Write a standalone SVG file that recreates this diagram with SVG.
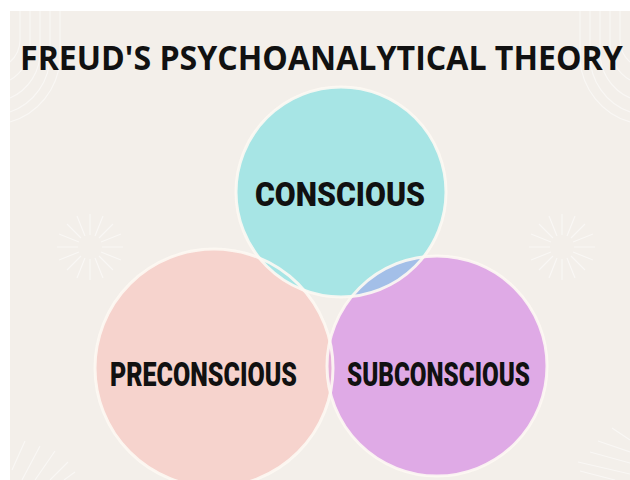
<svg xmlns="http://www.w3.org/2000/svg" width="630" height="480" viewBox="0 0 630 480">
  <style>
    .deco { fill: none; stroke: #ffffff; stroke-opacity: 0.5; stroke-width: 1.2; }
    .ring { fill: none; stroke: #fdf8f3; stroke-width: 3; stroke-opacity: 0.9; }
    .label { font-family: Roboto, "Liberation Sans", sans-serif; font-weight: 900; font-size: 33px; fill: #111111; }
    .title { font-family: "Open Sans", "Noto Sans", sans-serif; font-weight: 700; font-size: 34px; fill: #111111; }
  </style>
  <defs>
    <clipPath id="clipPink"><circle cx="214" cy="368" r="119"/></clipPath>
    <clipPath id="clipPurple"><circle cx="437" cy="366" r="110"/></clipPath>
  </defs>
  <rect x="0" y="0" width="630" height="480" fill="#ffffff"/>
  <rect x="10" y="11" width="620" height="469" fill="#f3efea"/>

  <g id="decorations">
    <path class="deco" d="M20,11 V40 A30,30 0 0 1 10,62 M30,11 V45 A40,40 0 0 1 10,80 M40,11 V50 A50,50 0 0 1 10,98 M50,11 V55 A60,60 0 0 1 10,112 M60,11 V60 A70,70 0 0 1 10,122"/>
    <path class="deco" d="M620,11 V40 A30,30 0 0 0 630,62 M610,11 V45 A40,40 0 0 0 630,80 M600,11 V50 A50,50 0 0 0 630,98 M590,11 V55 A60,60 0 0 0 630,112 M580,11 V60 A70,70 0 0 0 630,122"/>
    <g transform="translate(90,247)" class="deco" stroke-opacity="0.4">
      <path d="M0,-33 V-12 M0,33 V12 M-33,0 H-12 M33,0 H12 M-23,-23 L-9,-9 M23,23 L9,9 M23,-23 L9,-9 M-23,23 L-9,9 M-13,-31 L-5,-11 M13,31 L5,11 M31,-13 L11,-5 M-31,13 L-11,5 M13,-31 L5,-11 M-13,31 L-5,11 M31,13 L11,5 M-31,-13 L-11,-5"/>
    </g>
    <g transform="translate(562,247)" class="deco" stroke-opacity="0.4">
      <path d="M0,-33 V-12 M0,33 V12 M-33,0 H-12 M33,0 H12 M-23,-23 L-9,-9 M23,23 L9,9 M23,-23 L9,-9 M-23,23 L-9,9 M-13,-31 L-5,-11 M13,31 L5,11 M31,-13 L11,-5 M-31,13 L-11,5 M13,-31 L5,-11 M-13,31 L-5,11 M31,13 L11,5 M-31,-13 L-11,-5"/>
    </g>
    <path class="deco" stroke-width="1.6" d="M12,470 L25,441 M22,480 L40,446 M35,480 L55,451 M50,480 L68,462 M64,480 L75,472"/>
    <path class="deco" stroke-width="1.6" d="M630,440 L612,428 M630,452 L598,441 M630,463 L590,452 M630,474 L578,462 M615,480 L580,471"/>
  </g>

  <g id="node-preconscious">
    <circle cx="214" cy="368" r="119" fill="#f6d3cd"/>
  </g>
  <g id="node-subconscious">
    <circle cx="437" cy="366" r="110" fill="#dfaae6"/>
    <circle cx="437" cy="366" r="110" fill="#e6b0d8" clip-path="url(#clipPink)"/>
  </g>
  <g id="node-conscious">
    <circle cx="341" cy="192" r="105" fill="#a7e5e5"/>
    <circle cx="341" cy="192" r="105" fill="#a3bfe8" clip-path="url(#clipPurple)"/>
  </g>
  <g id="outlines">
    <circle class="ring" cx="214" cy="368" r="119"/>
    <circle class="ring" cx="437" cy="366" r="110"/>
    <circle class="ring" cx="341" cy="192" r="105"/>
  </g>

  <text class="title" transform="translate(20,70) scale(0.945,1)" x="0" y="0">FREUD'S PSYCHOANALYTICAL THEORY</text>
  <text class="label" x="255" y="206" textLength="170" lengthAdjust="spacingAndGlyphs">CONSCIOUS</text>
  <text class="label" x="110" y="386" textLength="187" lengthAdjust="spacingAndGlyphs">PRECONSCIOUS</text>
  <text class="label" x="347" y="386" textLength="183" lengthAdjust="spacingAndGlyphs">SUBCONSCIOUS</text>
</svg>
